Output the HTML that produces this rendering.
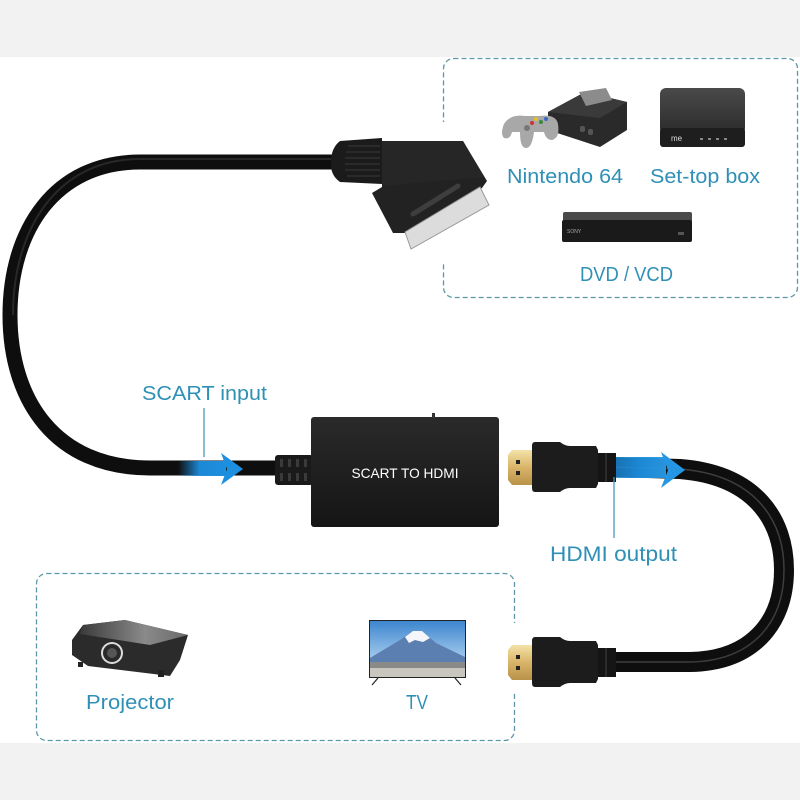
<!DOCTYPE html>
<html><head><meta charset="utf-8"><style>
html,body{margin:0;padding:0;background:#fff;}
svg{display:block;}
text{font-family:"Liberation Sans","DejaVu Sans",sans-serif;}
</style></head><body>
<svg width="800" height="800" viewBox="0 0 800 800" xmlns="http://www.w3.org/2000/svg">
<defs>
<linearGradient id="gold" x1="0" y1="0" x2="0" y2="1"><stop offset="0" stop-color="#f3e2a8"/><stop offset="0.5" stop-color="#d9b468"/><stop offset="1" stop-color="#b8924a"/></linearGradient>
<linearGradient id="blueA" x1="0" y1="0" x2="1" y2="0"><stop offset="0" stop-color="#1d8fe0" stop-opacity="0"/><stop offset="0.45" stop-color="#1d8fe0" stop-opacity="0.95"/><stop offset="1" stop-color="#1d8fe0"/></linearGradient>
<linearGradient id="blueB" x1="0" y1="0" x2="1" y2="0"><stop offset="0" stop-color="#1a8ee0" stop-opacity="0.8"/><stop offset="0.5" stop-color="#1d8fe0"/><stop offset="1" stop-color="#2a9ae6"/></linearGradient>
<linearGradient id="box" x1="0" y1="0" x2="0" y2="1"><stop offset="0" stop-color="#2a2a2a"/><stop offset="1" stop-color="#151515"/></linearGradient>
<linearGradient id="sky" x1="0" y1="0" x2="0" y2="1"><stop offset="0" stop-color="#3d86cf"/><stop offset="0.7" stop-color="#a9cdee"/><stop offset="1" stop-color="#d8e8f4"/></linearGradient>
<linearGradient id="proj" x1="0" y1="0" x2="1" y2="0"><stop offset="0" stop-color="#3a3a3a"/><stop offset="0.6" stop-color="#8a8a8a"/><stop offset="1" stop-color="#6a6a6a"/></linearGradient>
<linearGradient id="stb" x1="0" y1="0" x2="0" y2="1"><stop offset="0" stop-color="#4a4a4a"/><stop offset="1" stop-color="#2b2b2b"/></linearGradient>
</defs>

<rect x="0" y="0" width="800" height="800" fill="#fff"/>
<rect x="0" y="0" width="800" height="57" fill="#f2f2f2"/>
<rect x="0" y="743" width="800" height="57" fill="#f2f2f2"/>

<!-- dashed boxes -->
<rect x="443.5" y="58.5" width="354" height="239" rx="10" fill="none" stroke="#5a98a8" stroke-width="1.3" stroke-dasharray="5 3"/>
<rect x="439" y="122" width="9" height="140" fill="#fff"/>
<rect x="36.5" y="573.5" width="478" height="167" rx="10" fill="none" stroke="#5a98a8" stroke-width="1.3" stroke-dasharray="5 3"/>
<rect x="510" y="623" width="9" height="70" fill="#fff"/>

<!-- SCART cable -->
<path d="M 340 162 L 140 162 C 55 162 10 230 10 315 C 10 400 55 468 150 468 L 282 468" fill="none" stroke="#0e0e0e" stroke-width="15"/>
<path d="M 340 159 L 140 159 C 58 159 13 228 13 315" fill="none" stroke="#3a3a3a" stroke-width="2" opacity="0.6"/>

<!-- SCART connector -->
<path d="M 340 141 L 382 138 L 382 184 L 340 182 Q 330 175 331 162 Q 331 148 340 141 Z" fill="#1b1b1b"/>
<g stroke="#3a3a3a" stroke-width="1">
<line x1="348" y1="146" x2="380" y2="146"/><line x1="346" y1="152" x2="380" y2="152"/><line x1="345" y1="158" x2="380" y2="158"/><line x1="345" y1="164" x2="380" y2="164"/><line x1="345" y1="170" x2="380" y2="170"/><line x1="347" y1="176" x2="380" y2="176"/>
</g>
<polygon points="382,141 463,141 487,181 482,188 405,233 393,233 372,193 382,187" fill="#222"/>
<polygon points="382,141 463,141 484,177 382,186" fill="#262626"/>
<polygon points="405,232 480,187 489,205 411,249" fill="#dcdcdc" stroke="#9a9a9a" stroke-width="1"/>
<line x1="413" y1="214" x2="458" y2="186" stroke="#3e3e3e" stroke-width="5" stroke-linecap="round"/>

<!-- converter box -->
<rect x="275" y="455" width="38" height="30" rx="3" fill="#1a1a1a"/>
<g fill="#3a3a3a">
<rect x="280" y="459" width="3" height="8"/><rect x="288" y="459" width="3" height="8"/><rect x="296" y="459" width="3" height="8"/><rect x="304" y="459" width="3" height="8"/>
<rect x="280" y="473" width="3" height="8"/><rect x="288" y="473" width="3" height="8"/><rect x="296" y="473" width="3" height="8"/><rect x="304" y="473" width="3" height="8"/>
</g>
<rect x="311" y="417" width="188" height="110" rx="3" fill="url(#box)"/>
<rect x="432" y="413" width="3" height="5" fill="#333"/>
<text x="405" y="478" font-size="14" fill="#fff" text-anchor="middle" textLength="107" lengthAdjust="spacingAndGlyphs">SCART TO HDMI</text>

<!-- HDMI cable -->
<path d="M 612 467 L 680 469 C 755 475 784 520 784 570 C 784 625 750 661 690 662 L 612 662" fill="none" stroke="#0e0e0e" stroke-width="20"/>
<path d="M 612 467 L 680 469 C 755 475 784 520 784 570 C 784 625 750 661 690 662 L 612 662" fill="none" stroke="#4a4a4a" stroke-width="1.5" opacity="0.8"/>

<!-- blue arrows -->
<rect x="178" y="461" width="48" height="15" fill="url(#blueA)"/>
<polygon points="221,453 243,469 221,485 227,469" fill="#1d8fe0"/>
<rect x="614" y="457" width="52" height="21" fill="url(#blueB)" opacity="0.95"/>
<polygon points="661,452 685,470 661,488 668,470" fill="#2596e4"/>

<!-- HDMI upper plug -->
<g id="plug">
<polygon points="512,450 533,450 533,485 512,485 508,480 508,455" fill="url(#gold)"/>
<rect x="516" y="460" width="4" height="4" fill="#222"/><rect x="516" y="471" width="4" height="4" fill="#222"/>
<path d="M 535 442 L 560 442 Q 565 446 570 446 L 596 446 L 598 450 L 598 484 L 596 488 L 570 488 Q 565 488 560 492 L 535 492 Q 532 492 532 488 L 532 446 Q 532 442 535 442 Z" fill="#1c1c1c"/>
<rect x="598" y="453" width="18" height="29" fill="#151515"/>
<line x1="606" y1="453" x2="606" y2="482" stroke="#444" stroke-width="1"/>
</g>
<use href="#plug" transform="translate(0,195)"/>

<!-- leader lines -->
<line x1="204" y1="408" x2="204" y2="457" stroke="#4a98b8" stroke-width="1.3"/>
<line x1="614" y1="477" x2="614" y2="538" stroke="#4a98b8" stroke-width="1.3"/>

<!-- labels -->
<text x="142" y="400" font-size="20" fill="#2f90b6" textLength="125" lengthAdjust="spacingAndGlyphs">SCART input</text>
<text x="550" y="561" font-size="21" fill="#2f90b6" textLength="127" lengthAdjust="spacingAndGlyphs">HDMI output</text>
<text x="507" y="183" font-size="20" fill="#2f90b6" textLength="116" lengthAdjust="spacingAndGlyphs">Nintendo 64</text>
<text x="650" y="183" font-size="20" fill="#2f90b6" textLength="110" lengthAdjust="spacingAndGlyphs">Set-top box</text>
<text x="580" y="281" font-size="20" fill="#2f90b6" textLength="93" lengthAdjust="spacingAndGlyphs">DVD / VCD</text>
<text x="86" y="709" font-size="20" fill="#2f90b6" textLength="88" lengthAdjust="spacingAndGlyphs">Projector</text>
<text x="406" y="709" font-size="20" fill="#2f90b6" textLength="22" lengthAdjust="spacingAndGlyphs">TV</text>

<!-- N64 -->
<polygon points="548,112 585,92 627,102 627,130 600,147 548,130" fill="#2a2a2a"/>
<polygon points="548,112 585,92 627,102 600,118" fill="#3a3a3a"/>
<polygon points="579,92 606,88 612,100 586,106" fill="#8c8c8c"/>
<rect x="580" y="126" width="5" height="6" rx="2" fill="#555"/><rect x="588" y="129" width="5" height="6" rx="2" fill="#555"/>
<path d="M 504 124 Q 510 114 525 116 L 540 116 Q 556 114 558 124 Q 560 138 552 140 Q 546 140 544 132 L 534 132 Q 532 148 526 148 Q 520 148 520 132 L 512 132 Q 510 140 504 138 Q 500 134 504 124 Z" fill="#a8a8a8"/>
<circle cx="536" cy="119" r="2" fill="#e3c02a"/><circle cx="541" cy="122" r="2" fill="#3a8a3a"/><circle cx="532" cy="123" r="2" fill="#c33"/><circle cx="546" cy="119" r="2" fill="#3a6ac8"/>
<circle cx="527" cy="128" r="3" fill="#777"/>

<!-- Set-top box -->
<rect x="660" y="88" width="85" height="46" rx="6" fill="url(#stb)"/>
<rect x="660" y="128" width="85" height="19" rx="3" fill="#1e1e1e"/>
<text x="671" y="141" font-size="8" fill="#ddd">me</text>
<g fill="#888"><rect x="700" y="138" width="3" height="2"/><rect x="708" y="138" width="3" height="2"/><rect x="716" y="138" width="3" height="2"/><rect x="724" y="138" width="3" height="2"/></g>

<!-- DVD player -->
<rect x="563" y="212" width="129" height="10" rx="2" fill="#4a4a4a"/>
<rect x="562" y="220" width="130" height="22" rx="2" fill="#1a1a1a"/>
<text x="567" y="233" font-size="5" fill="#aaa">SONY</text>
<rect x="678" y="232" width="6" height="3" fill="#555"/>

<!-- Projector -->
<polygon points="72,640 83,625 125,620 188,635 180,660 170,676 88,666 72,655" fill="#2b2b2b"/>
<polygon points="83,625 125,620 188,635 150,645 80,634" fill="url(#proj)"/>
<circle cx="112" cy="653" r="11" fill="#ddd"/>
<circle cx="112" cy="653" r="9" fill="#2a2a2a"/>
<circle cx="112" cy="653" r="5" fill="#555"/>
<rect x="78" y="662" width="5" height="5" fill="#222"/><rect x="158" y="670" width="6" height="7" fill="#222"/>

<!-- TV -->
<rect x="369" y="620" width="97" height="58" fill="#222"/>
<rect x="370" y="621" width="95" height="56" fill="url(#sky)"/>
<polygon points="370,658 400,640 413,631 422,631 436,643 465,657 465,665 370,665" fill="#5a7fb0"/>
<polygon points="405,637 413,631 422,631 430,638 423,642 415,640 409,643" fill="#f4f6fa"/>
<rect x="370" y="662" width="95" height="15" fill="#8a8a88"/>
<rect x="370" y="668" width="95" height="9" fill="#c9c6c0"/>
<line x1="378" y1="678" x2="372" y2="685" stroke="#222" stroke-width="1.2"/>
<line x1="455" y1="678" x2="461" y2="685" stroke="#222" stroke-width="1.2"/>
</svg>
</body></html>
